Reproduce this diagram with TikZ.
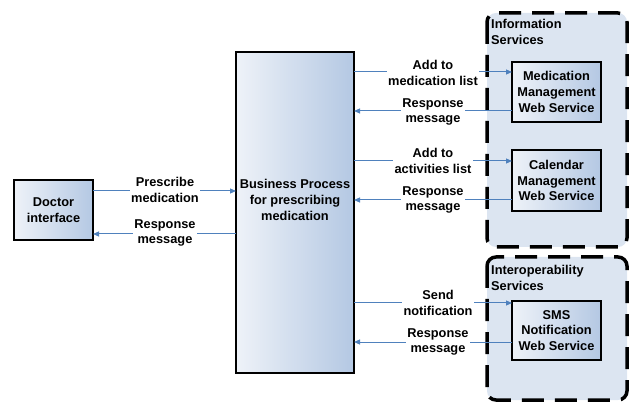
\documentclass[tikz,border=0pt]{standalone}
\usepackage{fontspec}
\setmainfont{Liberation Sans}
\usetikzlibrary{arrows.meta}
\definecolor{flowblue}{HTML}{4F81BD}
\definecolor{boxlight}{HTML}{EEF2F8}
\definecolor{boxdark}{HTML}{B4C8E3}
\definecolor{groupfill}{HTML}{DCE5F1}
\tikzset{
  x=1pt, y=-1pt,
  every node/.style={font=\fontsize{12.8}{15.8}\selectfont\bfseries, align=center, inner sep=1pt},
  procbox/.style={draw=black, line width=1.8pt, left color=boxlight, right color=boxdark, shading angle=90},
  groupbox/.style={draw=black, line width=3.5pt, fill=groupfill, rounded corners=9pt, dash pattern=on 22pt off 11pt},
  msg/.style={draw=flowblue, line width=1pt, -{Triangle[length=6pt,width=5pt]}},
  lbl/.style={fill=white, inner sep=1.5pt}
}
\begin{document}
\begin{tikzpicture}
\useasboundingbox (0,0) rectangle (629,403);

% service groups
\draw[groupbox] (487,13) rectangle (627,247);
\draw[groupbox] (487,257) rectangle (627,400);
\node[anchor=north west, align=left, inner sep=0pt] (infotitle) at (491,19.5) {Information\\Services};
\node[anchor=north west, align=left, inner sep=0pt] (interoptitle) at (491,265) {Interoperability\\Services};

% boxes
\draw[procbox] (14,180) rectangle (93,240);
\node (doc) at (53.5,210) {Doctor\\interface};
\coordinate (docR) at (93,0);

\draw[procbox] (236,52) rectangle (354,373);
\node (bptext) at (295,200) {Business Process\\for prescribing\\medication};
\coordinate (bpL) at (236,0);
\coordinate (bpR) at (354,0);

\draw[procbox] (512,62) rectangle (601,122);
\node (med) at (556.5,92) {Medication\\Management\\Web Service};
\draw[procbox] (512,150) rectangle (601,211);
\node (cal) at (556.5,180.5) {Calendar\\Management\\Web Service};
\draw[procbox] (512,301) rectangle (601,360);
\node (sms) at (556.5,330.5) {SMS\\Notification\\Web Service};
\coordinate (svcL) at (512,0);

% message flows
\draw[msg] (docR |- 0,191) -- (bpL |- 0,191);
\draw[msg] (bpL |- 0,234) -- (docR |- 0,234);
\node[lbl] (l1) at (165,190) {Prescribe\\medication};
\node[lbl] (l2) at (165,233) {Response\\message};

\draw[msg] (bpR |- 0,72) -- (svcL |- 0,72);
\draw[msg] (svcL |- 0,111) -- (bpR |- 0,111);
\node[lbl] (l3) at (433,73) {Add to\\medication list};
\node[lbl] (l4) at (433,112) {Response\\message};

\draw[msg] (bpR |- 0,161) -- (svcL |- 0,161);
\draw[msg] (svcL |- 0,200) -- (bpR |- 0,200);
\node[lbl] (l5) at (433,161) {Add to\\activities list};
\node[lbl] (l6) at (433,200) {Response\\message};

\draw[msg] (bpR |- 0,303) -- (svcL |- 0,303);
\draw[msg] (svcL |- 0,342) -- (bpR |- 0,342);
\node[lbl] (l7) at (438,303) {Send\\notification};
\node[lbl] (l8) at (438,342) {Response\\message};
\end{tikzpicture}
\end{document}
